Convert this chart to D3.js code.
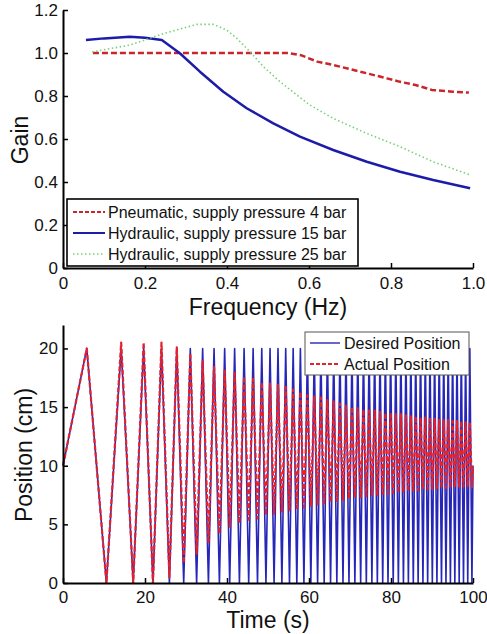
<!DOCTYPE html>
<html>
<head>
<meta charset="utf-8">
<script src="https://cdn.jsdelivr.net/npm/d3@7"></script>
<style>
  body { margin: 0; background: #fff; }
  svg { display: block; font-family: "Liberation Sans", Arial, sans-serif; }
</style>
</head>
<body>
<svg id="chart" width="487" height="634"></svg>
<script>
// ---------- Top chart data (gain vs frequency) ----------
const freqPneumatic = [0.073, 0.15, 0.25, 0.35, 0.45, 0.55, 0.58, 0.62, 0.66, 0.70, 0.74, 0.79, 0.82, 0.86, 0.90, 0.95, 0.99];
const gainPneumatic = [1.0, 1.0, 1.0, 1.0, 1.0, 1.0, 0.99, 0.96, 0.944, 0.925, 0.906, 0.882, 0.867, 0.851, 0.828, 0.82, 0.816];

const freqHyd15 = [0.056, 0.10, 0.163, 0.20, 0.241, 0.285, 0.334, 0.391, 0.448, 0.513, 0.578, 0.659, 0.741, 0.822, 0.903, 0.993];
const gainHyd15 = [1.06, 1.068, 1.076, 1.071, 1.06, 0.999, 0.913, 0.82, 0.743, 0.673, 0.611, 0.549, 0.494, 0.448, 0.409, 0.371];

const freqHyd25 = [0.071, 0.163, 0.245, 0.326, 0.367, 0.399, 0.424, 0.456, 0.489, 0.529, 0.570, 0.602, 0.659, 0.741, 0.822, 0.903, 0.993];
const gainHyd25 = [1.005, 1.037, 1.09, 1.133, 1.133, 1.107, 1.068, 1.006, 0.936, 0.867, 0.805, 0.758, 0.696, 0.626, 0.564, 0.494, 0.433];

const topLegend = ["Pneumatic, supply pressure 4 bar", "Hydraulic, supply pressure 15 bar", "Hydraulic, supply pressure 25 bar"];
const topXTicks = [0, 0.2, 0.4, 0.6, 0.8, 1.0];
const topYTicks = [0, 0.2, 0.4, 0.6, 0.8, 1.0, 1.2];

// ---------- Bottom chart data (position vs time) ----------
const startPoint = [0, 10];
const peakTimes = [5.8, 14.19, 19.67, 24.02, 27.75, 31.05, 34.06, 36.84, 39.43, 41.86, 44.17, 46.37, 48.48, 50.50, 52.44, 54.32, 56.14, 57.90, 59.61, 61.28, 62.90, 64.49, 66.03, 67.55, 69.02, 70.48, 71.90, 73.29, 74.66, 76.01, 77.33, 78.63, 79.91, 81.17, 82.41, 83.64, 84.84, 86.03, 87.21, 88.37, 89.51, 90.64, 91.76, 92.86, 93.95, 95.03, 96.10, 97.15, 98.20, 99.23];
const troughTimes = [10.59, 17.12, 21.94, 25.95, 29.44, 32.59, 35.47, 38.15, 40.66, 43.03, 45.29, 47.44, 49.50, 51.48, 53.39, 55.24, 57.03, 58.76, 60.45, 62.10, 63.70, 65.26, 66.79, 68.29, 69.75, 71.19, 72.60, 73.98, 75.34, 76.67, 77.98, 79.27, 80.54, 81.80, 83.03, 84.24, 85.44, 86.62, 87.79, 88.94, 90.08, 91.20, 92.31, 93.41, 94.49, 95.57, 96.63, 97.68, 98.72, 99.74];
const desiredMax = 20, desiredMin = 0;
const actualPeaks = [20.0, 20.5, 20.5, 20.5, 20.1, 19.6, 18.9, 18.4, 18.1, 17.9, 17.6, 17.4, 17.1, 17.0, 16.9, 16.7, 16.5, 16.3, 16.0, 15.9, 15.8, 15.6, 15.5, 15.3, 15.1, 15.0, 14.9, 14.8, 14.7, 14.7, 14.6, 14.5, 14.5, 14.4, 14.4, 14.3, 14.2, 14.2, 14.1, 14.1, 14.0, 14.0, 13.9, 13.9, 13.9, 13.8, 13.8, 13.8, 13.7, 13.7];
const actualTroughs = [0.0, 0.0, 0.0, 0.5, 1.7, 2.5, 3.4, 4.2, 4.8, 5.1, 5.4, 5.5, 5.8, 5.9, 6.1, 6.2, 6.4, 6.45, 6.6, 6.7, 6.8, 6.9, 7.0, 7.1, 7.2, 7.3, 7.3, 7.4, 7.5, 7.5, 7.6, 7.6, 7.7, 7.7, 7.8, 7.8, 7.9, 7.9, 8.0, 8.0, 8.0, 8.1, 8.1, 8.1, 8.1, 8.2, 8.2, 8.2, 8.2, 8.2];
const endPoint = [100, 10];
const bottomLegend = ["Desired Position", "Actual Position"];
const botXTicks = [0, 20, 40, 60, 80, 100];
const botYTicks = [0, 5, 10, 15, 20];

// ---------- Drawing ----------
const svg = d3.select("#chart");
svg.append("rect").attr("width", 487).attr("height", 634).attr("fill", "#fff");

const FONT_TICK = 17, FONT_TITLE = 23, FONT_LEG = 16;

function styleAxis(g) {
  g.select(".domain").attr("stroke", "#000").attr("stroke-width", 2);
  g.selectAll(".tick line").attr("stroke", "#000").attr("stroke-width", 1.5);
  g.selectAll(".tick text").attr("fill", "#111").style("font-size", FONT_TICK + "px")
    .style("font-family", '"Liberation Sans", Arial, sans-serif');
}

// ===== Top chart =====
const xTop = d3.scaleLinear().domain([0, 1]).range([63, 473]);
const yTop = d3.scaleLinear().domain([0, 1.2]).range([268, 10]);
const fmtTop = d => d === 0 ? "0" : d.toFixed(1);

const topG = svg.append("g");
const lineTop = d3.line().x(d => xTop(d[0])).y(d => yTop(d[1]));

const topSeries = [
  { f: freqPneumatic, g: gainPneumatic, color: "#c9262c", width: 2.5, dash: "6,3" },
  { f: freqHyd15, g: gainHyd15, color: "#1c1ca8", width: 2.5, dash: null },
  { f: freqHyd25, g: gainHyd25, color: "#78d078", width: 1.6, dash: "1.5,2.5" }
];
topSeries.forEach(s => {
  topG.append("path")
    .datum(s.f.map((f, i) => [f, s.g[i]]))
    .attr("d", lineTop)
    .attr("fill", "none")
    .attr("stroke", s.color)
    .attr("stroke-width", s.width)
    .attr("stroke-dasharray", s.dash)
    .attr("stroke-linejoin", "round");
});

topG.append("g").attr("transform", "translate(0,268)")
  .call(d3.axisBottom(xTop).tickValues(topXTicks).tickFormat(fmtTop).tickSizeInner(-5).tickSizeOuter(0).tickPadding(9))
  .call(styleAxis);
topG.append("g").attr("transform", "translate(63,0)")
  .call(d3.axisLeft(yTop).tickValues(topYTicks).tickFormat(fmtTop).tickSizeInner(-5).tickSizeOuter(0).tickPadding(5))
  .call(styleAxis);

// legend top
const tl = topG.append("g");
tl.append("rect").attr("x", 67).attr("y", 199).attr("width", 291).attr("height", 67)
  .attr("fill", "#fff").attr("stroke", "#000").attr("stroke-width", 1.6);
const tlY = [212, 233, 254];
topSeries.forEach((s, i) => {
  tl.append("line").attr("x1", 73).attr("x2", 105).attr("y1", tlY[i]).attr("y2", tlY[i])
    .attr("stroke", s.color).attr("stroke-width", i === 2 ? 1.6 : 2)
    .attr("stroke-dasharray", i === 0 ? "4,2" : s.dash);
  tl.append("text").attr("x", 108).attr("y", tlY[i]).attr("dy", "0.36em")
    .style("font-size", FONT_LEG + "px").attr("fill", "#111").text(topLegend[i]);
});

topG.append("text").attr("x", 268).attr("y", 315).attr("text-anchor", "middle")
  .style("font-size", FONT_TITLE + "px").attr("fill", "#111").text("Frequency (Hz)");
topG.append("text").attr("transform", "translate(28,140) rotate(-90)").attr("text-anchor", "middle")
  .style("font-size", FONT_TITLE + "px").attr("fill", "#111").text("Gain");

// ===== Bottom chart =====
const xBot = d3.scaleLinear().domain([0, 100]).range([63, 473]);
const yBot = d3.scaleLinear().domain([0, 22]).range([583, 325]);
const botG = svg.append("g");

const desired = [startPoint];
const actual = [startPoint];
peakTimes.forEach((t, i) => {
  desired.push([t, desiredMax]);
  actual.push([t, actualPeaks[i]]);
  desired.push([troughTimes[i], desiredMin]);
  actual.push([troughTimes[i], actualTroughs[i]]);
});
desired.push(endPoint);
actual.push(endPoint);

const lineBot = d3.line().x(d => xBot(d[0])).y(d => yBot(d[1]));
const blue = "#2626b8", red = "#e3222c";
botG.append("path").datum(desired).attr("d", lineBot).attr("fill", "none")
  .attr("stroke", blue).attr("stroke-width", 1.6).attr("stroke-linejoin", "round");
botG.append("path").datum(actual).attr("d", lineBot).attr("fill", "none")
  .attr("stroke", red).attr("stroke-width", 2.2).attr("stroke-dasharray", "5,2").attr("stroke-linejoin", "round");

botG.append("g").attr("transform", "translate(0,583)")
  .call(d3.axisBottom(xBot).tickValues(botXTicks).tickFormat(d3.format("d")).tickSizeInner(-5).tickSizeOuter(0).tickPadding(8))
  .call(styleAxis);
botG.append("g").attr("transform", "translate(63,0)")
  .call(d3.axisLeft(yBot).tickValues(botYTicks).tickFormat(d3.format("d")).tickSizeInner(-5).tickSizeOuter(0).tickPadding(5))
  .call(styleAxis);

// legend bottom
const bl = botG.append("g");
bl.append("rect").attr("x", 305).attr("y", 332).attr("width", 164).attr("height", 43)
  .attr("fill", "#fff").attr("stroke", "#555").attr("stroke-width", 1);
bl.append("line").attr("x1", 310).attr("x2", 340).attr("y1", 343).attr("y2", 343)
  .attr("stroke", blue).attr("stroke-width", 1.4);
bl.append("line").attr("x1", 310).attr("x2", 340).attr("y1", 364).attr("y2", 364)
  .attr("stroke", red).attr("stroke-width", 2).attr("stroke-dasharray", "4,2");
bl.append("text").attr("x", 344).attr("y", 343).attr("dy", "0.36em")
  .style("font-size", FONT_LEG + "px").attr("fill", "#111").text(bottomLegend[0]);
bl.append("text").attr("x", 344).attr("y", 364).attr("dy", "0.36em")
  .style("font-size", FONT_LEG + "px").attr("fill", "#111").text(bottomLegend[1]);

botG.append("text").attr("x", 268).attr("y", 628).attr("text-anchor", "middle")
  .style("font-size", FONT_TITLE + "px").attr("fill", "#111").text("Time (s)");
botG.append("text").attr("transform", "translate(32,455) rotate(-90)").attr("text-anchor", "middle")
  .style("font-size", FONT_TITLE + "px").attr("fill", "#111").text("Position (cm)");
</script>
</body>
</html>
